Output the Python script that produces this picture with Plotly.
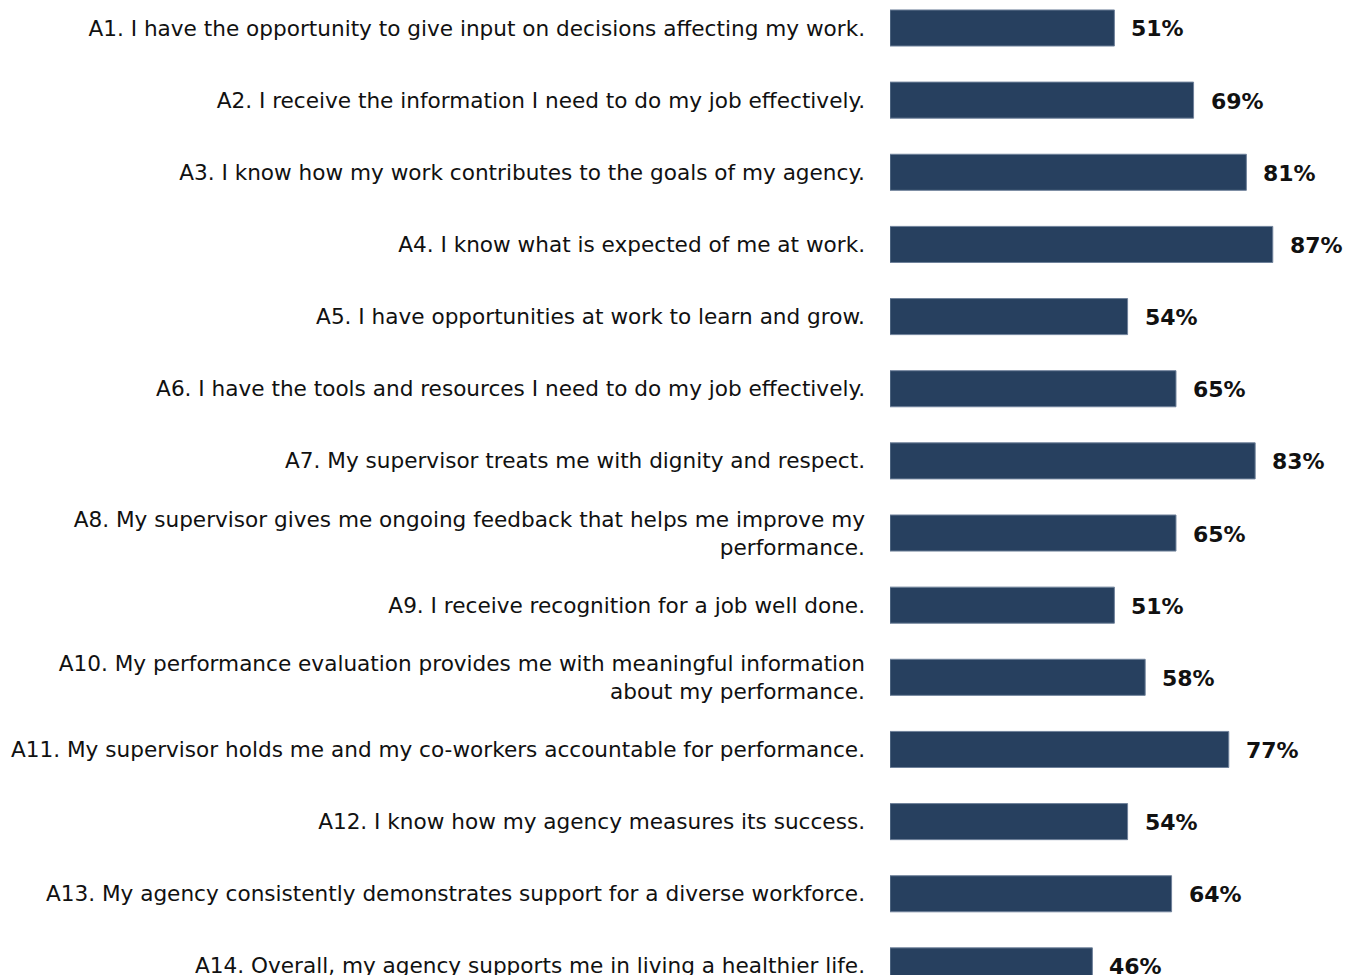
import plotly.graph_objects as go

# Survey items and the share of respondents answering positively
items = [
    "A1. I have the opportunity to give input on decisions affecting my work.",
    "A2. I receive the information I need to do my job effectively.",
    "A3. I know how my work contributes to the goals of my agency.",
    "A4. I know what is expected of me at work.",
    "A5. I have opportunities at work to learn and grow.",
    "A6. I have the tools and resources I need to do my job effectively.",
    "A7. My supervisor treats me with dignity and respect.",
    "A8. My supervisor gives me ongoing feedback that helps me improve my<br>performance.",
    "A9. I receive recognition for a job well done.",
    "A10. My performance evaluation provides me with meaningful information<br>about my performance.",
    "A11. My supervisor holds me and my co-workers accountable for performance.",
    "A12. I know how my agency measures its success.",
    "A13. My agency consistently demonstrates support for a diverse workforce.",
    "A14. Overall, my agency supports me in living a healthier life.",
]
percent = [51, 69, 81, 87, 54, 65, 83, 65, 51, 58, 77, 54, 64, 46]

BAR_COLOR = "#27405f"
TEXT_COLOR = "#111111"

fig = go.Figure(
    go.Bar(
        x=percent,
        y=items,
        orientation="h",
        width=0.5,
        marker=dict(color=BAR_COLOR, line=dict(color="#6f819a", width=1)),
        hoverinfo="skip",
    )
)

# Value labels just past the end of each bar
for item, p in zip(items, percent):
    fig.add_annotation(
        x=p, y=item, text=f"<b>{p}%</b>", showarrow=False,
        xanchor="left", yanchor="middle", xshift=15, yshift=-1,
        font=dict(family="DejaVu Sans", size=22, color=TEXT_COLOR),
    )

fig.update_layout(
    width=1348, height=975,
    margin=dict(l=890, r=0, t=0, b=0),
    paper_bgcolor="white", plot_bgcolor="white",
    showlegend=False,
    font=dict(family="DejaVu Sans", size=21, color=TEXT_COLOR),
)
fig.update_xaxes(range=[0, 104.1], visible=False, fixedrange=True,
                 automargin=False)
fig.update_yaxes(
    type="category",
    range=[13.126, -0.388],
    automargin=False,
    showgrid=False, zeroline=False, showline=False,
    ticks="", ticklabelstandoff=24,
    tickfont=dict(family="DejaVu Sans", size=21.6, color=TEXT_COLOR),
    fixedrange=True,
)

fig.write_html("out.html")
